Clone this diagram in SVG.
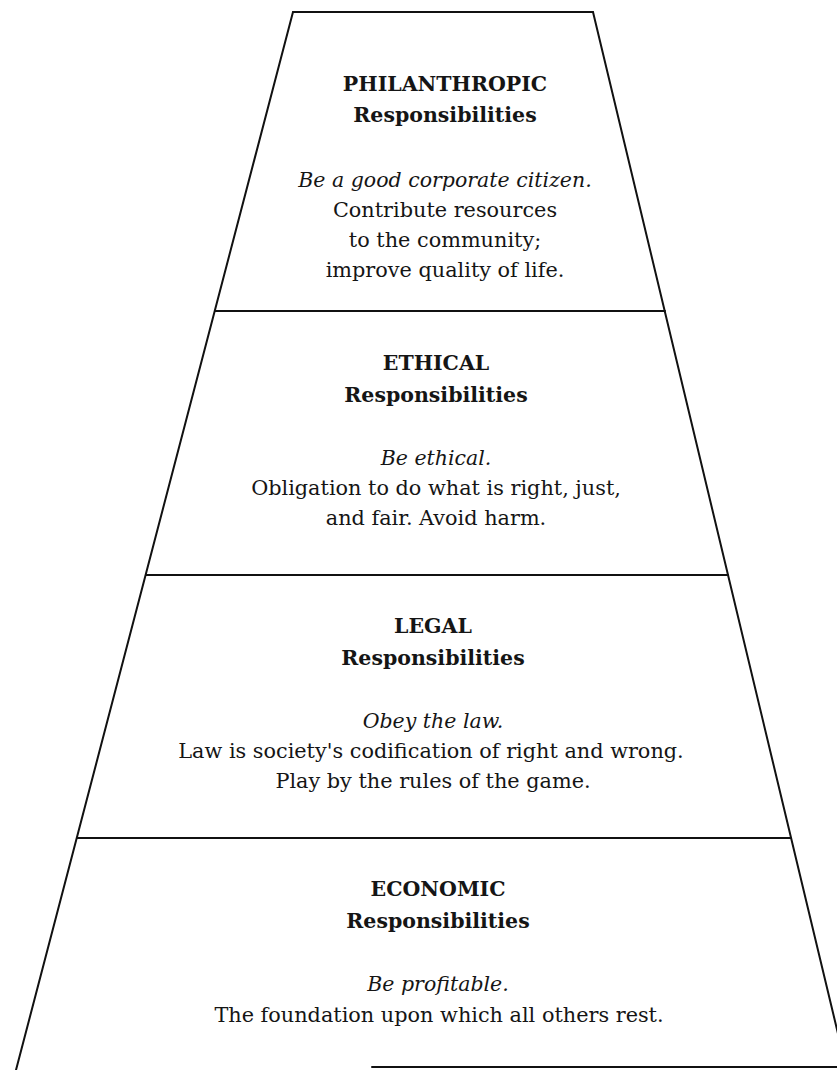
<svg xmlns="http://www.w3.org/2000/svg" width="837" height="1070" viewBox="0 0 837 1070">
<style>
  .edge { stroke: #111; stroke-width: 2; fill: none; stroke-linecap: round; }
  text { font-family: "DejaVu Serif", "Liberation Serif", serif; fill: #151515; text-anchor: middle; }
  .h { font-size: 20.5px; font-weight: bold; }
  .i { font-size: 20.5px; font-style: italic; }
  .t { font-size: 20.8px; }
</style>
<rect width="837" height="1070" fill="#fff"/>
<g id="outline">
  <line class="edge" x1="293" y1="12" x2="593" y2="12"/>
  <line class="edge" x1="293" y1="12" x2="16" y2="1070"/>
  <line class="edge" x1="593" y1="12" x2="846" y2="1067"/>
  <line class="edge" x1="372" y1="1067" x2="846" y2="1067"/>
</g>
<g id="connectors">
  <line class="edge" x1="215" y1="311" x2="665" y2="311"/>
  <line class="edge" x1="146" y1="575" x2="728" y2="575"/>
  <line class="edge" x1="77" y1="838" x2="791" y2="838"/>
</g>
<g id="philanthropic">
  <text class="h" x="445" y="91">PHILANTHROPIC</text>
  <text class="h" x="445" y="122">Responsibilities</text>
  <text class="i" x="445" y="187">Be a good corporate citizen.</text>
  <text class="t" x="445" y="217">Contribute resources</text>
  <text class="t" x="445" y="247">to the community;</text>
  <text class="t" x="445" y="277">improve quality of life.</text>
</g>
<g id="ethical">
  <text class="h" x="436" y="370">ETHICAL</text>
  <text class="h" x="436" y="402">Responsibilities</text>
  <text class="i" x="436" y="465">Be ethical.</text>
  <text class="t" x="436" y="495">Obligation to do what is right, just,</text>
  <text class="t" x="436" y="525">and fair. Avoid harm.</text>
</g>
<g id="legal">
  <text class="h" x="433" y="633">LEGAL</text>
  <text class="h" x="433" y="665">Responsibilities</text>
  <text class="i" x="433" y="728">Obey the law.</text>
  <text class="t" x="431" y="758">Law is society's codification of right and wrong.</text>
  <text class="t" x="433" y="788">Play by the rules of the game.</text>
</g>
<g id="economic">
  <text class="h" x="438" y="896">ECONOMIC</text>
  <text class="h" x="438" y="928">Responsibilities</text>
  <text class="i" x="438" y="991">Be profitable.</text>
  <text class="t" x="439" y="1022">The foundation upon which all others rest.</text>
</g>
</svg>
